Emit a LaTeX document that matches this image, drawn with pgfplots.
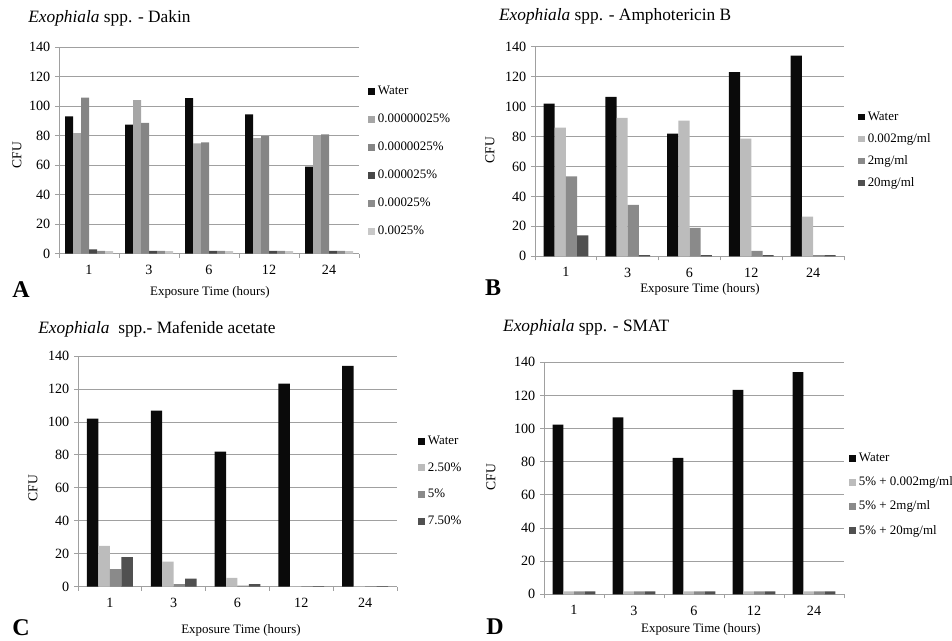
\documentclass[border=0pt]{standalone}
\usepackage{fontspec}
\setmainfont{Liberation Serif}
\usepackage{pgfplots}
\pgfplotsset{compat=1.18}
\definecolor{wat}{HTML}{0A0A0A}
\definecolor{gA}{HTML}{A6A6A6}
\definecolor{gB}{HTML}{858585}
\definecolor{gC}{HTML}{474747}
\definecolor{gD}{HTML}{8C8C8C}
\definecolor{gE}{HTML}{C8C8C8}
\definecolor{lt}{HTML}{BCBCBC}
\definecolor{md}{HTML}{8A8A8A}
\definecolor{dk}{HTML}{505050}
\definecolor{axc}{HTML}{A0A0A0}
\newcommand{\tfont}{\fontsize{9.7}{11}\selectfont}
\newcommand{\kfont}{\fontsize{10.6}{12}\selectfont}
\pgfplotsset{
  panel/.style={
    scale only axis, ybar=0pt,
    ymin=0, ymax=140, ytick={0,20,...,140},
    xmin=-0.5, xmax=4.5, xtick={0,...,4}, xticklabels={1,3,6,12,24},
    minor xtick={-0.5,0.5,...,4.5},
    axis x line*=bottom, axis y line*=left,
    axis line style={axc, line width=0.6pt, -},
    ymajorgrids, grid style={axc, line width=0.6pt},
    tick align=outside, major tick length=3pt, minor tick length=3pt,
    tick style={axc, line width=0.6pt},
    major x tick style={draw=none},
    /pgf/number format/assume math mode=true,
    tick label style={font=\kfont},
    xticklabel style={yshift=-2pt},
    label style={font=\tfont},
    ylabel style={font=\fontsize{10.2}{12}\selectfont},
    every axis plot/.append style={draw=none},
    legend cell align=left,
    legend image code/.code={\fill[##1] (0pt,-2.6pt) rectangle (5.2pt,2.6pt);},
    title style={anchor=west, inner sep=0pt, yshift=-6pt, font=\fontsize{13}{15}\selectfont},
  },
  leg/.style={legend style={draw=none, fill=none, inner sep=0pt, font=\tfont,
    column sep=2pt, nodes={inner sep=0pt, text height=7pt, text depth=2pt}}},
}
\begin{document}
\begin{tikzpicture}
\useasboundingbox (0pt,0pt) rectangle (714pt,-480pt);
% Panel A
\begin{axis}[panel, leg, at={(44.25pt,-190.3pt)}, anchor=south west,
  width=225pt, height=155pt, bar width=6pt,
  title={\textit{Exophiala} spp. - Dakin},
  title style={at={(axis description cs:-0.103,1.14)}},
  xlabel={Exposure Time (hours)}, ylabel={CFU},
  xlabel style={at={(axis description cs:0.503,-0.185)}, anchor=center},
  ylabel style={at={(axis description cs:-0.14,0.478)}, anchor=center},
  legend style={at={(1.03,0.446)}, anchor=west, row sep=12pt},
]
\addplot[fill=wat] coordinates {(0,93) (1,87.4) (2,105.4) (3,94.4) (4,59)};
\addplot[fill=gA] coordinates {(0,81.7) (1,104) (2,74.8) (3,78.3) (4,80.1)};
\addplot[fill=gB] coordinates {(0,105.8) (1,88.7) (2,75.4) (3,79.7) (4,80.8)};
\addplot[fill=gC] coordinates {(0,3) (1,2) (2,2) (3,2) (4,2)};
\addplot[fill=gD] coordinates {(0,2) (1,2) (2,2) (3,2) (4,2)};
\addplot[fill=gE] coordinates {(0,1.8) (1,1.8) (2,1.8) (3,1.8) (4,1.8)};
\legend{Water, 0.00000025\%, 0.0000025\%, 0.000025\%, 0.00025\%, 0.0025\%}
\end{axis}
% Panel B
\begin{axis}[panel, leg, at={(401.25pt,-192.2pt)}, anchor=south west,
  width=231.75pt, height=157.2pt, bar width=8.4pt,
  title={\textit{Exophiala} spp. - Amphotericin B},
  title style={at={(axis description cs:-0.117,1.146)}},
  xlabel={Exposure Time (hours)}, ylabel={CFU},
  xlabel style={at={(axis description cs:0.534,-0.158)}, anchor=center},
  ylabel style={at={(axis description cs:-0.146,0.507)}, anchor=center},
  legend style={at={(1.045,0.507)}, anchor=west, row sep=7.5pt},
]
\addplot[fill=wat] coordinates {(0,102) (1,106.5) (2,82) (3,123) (4,134)};
\addplot[fill=lt] coordinates {(0,86) (1,92.4) (2,90.6) (3,78.5) (4,26.5)};
\addplot[fill=md] coordinates {(0,53.4) (1,34.3) (2,18.9) (3,3.6) (4,0.8)};
\addplot[fill=dk] coordinates {(0,14) (1,0.8) (2,0.8) (3,0.8) (4,0.8)};
\legend{Water, 0.002mg/ml, 2mg/ml, 20mg/ml}
\end{axis}
% Panel C
\begin{axis}[panel, leg, at={(58.5pt,-440pt)}, anchor=south west,
  width=239.25pt, height=173pt, bar width=8.6pt,
  title={\textit{Exophiala}\ \ spp.- Mafenide acetate},
  title style={at={(axis description cs:-0.125,1.117)}},
  xlabel={Exposure Time (hours)}, ylabel={CFU},
  xlabel style={at={(axis description cs:0.511,-0.188)}, anchor=center},
  ylabel style={at={(axis description cs:-0.141,0.428)}, anchor=center},
  legend style={at={(1.066,0.458)}, anchor=west, row sep=11pt},
]
\addplot[fill=wat] coordinates {(0,102) (1,106.8) (2,82) (3,123.2) (4,134)};
\addplot[fill=lt] coordinates {(0,24.7) (1,15.2) (2,5.3) (3,0.4) (4,0.4)};
\addplot[fill=md] coordinates {(0,10.7) (1,1.6) (2,0.6) (3,0.4) (4,0.4)};
\addplot[fill=dk] coordinates {(0,18) (1,4.9) (2,1.6) (3,0.4) (4,0.4)};
\legend{Water, 2.50\%, 5\%, 7.50\%}
\end{axis}
% Panel D
\begin{axis}[panel, leg, at={(408pt,-445.7pt)}, anchor=south west,
  width=225pt, height=174pt, bar width=8pt,
  title={\textit{Exophiala} spp. - SMAT},
  title style={at={(axis description cs:-0.137,1.152)}},
  xlabel={Exposure Time (hours)}, ylabel={CFU},
  xlabel style={at={(axis description cs:0.523,-0.15)}, anchor=center},
  ylabel style={at={(axis description cs:-0.177,0.506)}, anchor=center},
  legend style={at={(1.017,0.43)}, anchor=west, row sep=9.2pt},
]
\addplot[fill=wat] coordinates {(0,102.4) (1,106.8) (2,82.3) (3,123.3) (4,134)};
\addplot[fill=lt] coordinates {(0,1.8) (1,1.8) (2,1.8) (3,1.8) (4,1.8)};
\addplot[fill=md] coordinates {(0,1.8) (1,1.8) (2,1.8) (3,1.8) (4,1.8)};
\addplot[fill=dk] coordinates {(0,1.8) (1,1.8) (2,1.8) (3,1.8) (4,1.8)};
\legend{Water, 5\% + 0.002mg/ml, 5\% + 2mg/ml, 5\% + 20mg/ml}
\end{axis}
\node[font=\bfseries\fontsize{18}{20}\selectfont, inner sep=0pt] at (15.75pt,-217.5pt) {A};
\node[font=\bfseries\fontsize{18}{20}\selectfont, inner sep=0pt] at (369.8pt,-216pt) {B};
\node[font=\bfseries\fontsize{18}{20}\selectfont, inner sep=0pt] at (15.75pt,-471pt) {C};
\node[font=\bfseries\fontsize{18}{20}\selectfont, inner sep=0pt] at (371.25pt,-470.25pt) {D};
\end{tikzpicture}
\end{document}
